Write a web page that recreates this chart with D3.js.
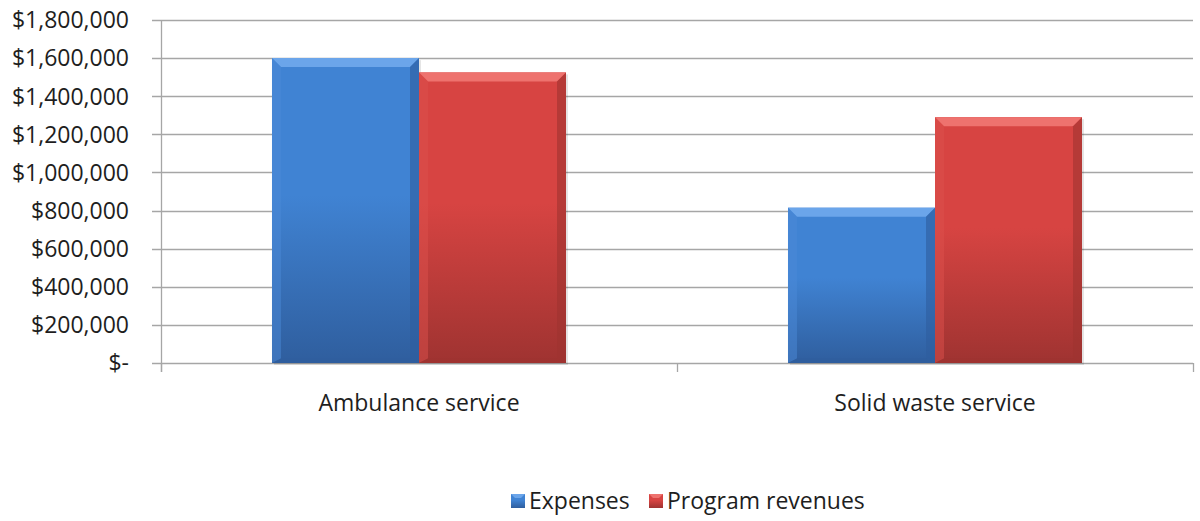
<!DOCTYPE html>
<html><head><meta charset="utf-8">
<script src="https://cdn.jsdelivr.net/npm/d3@7"></script>
<style>body{margin:0;background:#fff}svg{display:block}text{font-family:"Open Sans","Noto Sans",sans-serif;fill:#1e1e1e}</style>
</head><body>
<svg id="c" width="1200" height="521"></svg>
<script>
const categories = ["Ambulance service", "Solid waste service"];
const seriesNames = ["Expenses", "Program revenues"];
const expenses = [1600000, 815000];
const programRevenues = [1525000, 1290000];
const yTicks = [0, 200000, 400000, 600000, 800000, 1000000, 1200000, 1400000, 1600000, 1800000];

const colors = {
  "Expenses": {base:"#4083d3", top:"#6ba5ea", dark:"#2f5e9e", light:"#4c8ad8"},
  "Program revenues": {base:"#d74442", top:"#ee726e", dark:"#9f3331", light:"#dc4f4c"}
};

const svg = d3.select("#c");
const m = {left:161, right:1193, top:20, bottom:363};
const x = d3.scaleBand().domain(categories).range([m.left, m.right]).paddingInner(0).paddingOuter(0);
const x1 = d3.scaleBand().domain(seriesNames).range([0, x.bandwidth()]).paddingInner(0).paddingOuter(0.755);
const y = d3.scaleLinear().domain([0, 1800000]).range([m.bottom, m.top]);

const defs = svg.append("defs");
seriesNames.forEach((s,i)=>{
  const c = colors[s];
  const g = defs.append("linearGradient").attr("id","g"+i).attr("x1",0).attr("y1",0).attr("x2",0).attr("y2",1);
  g.append("stop").attr("offset","0%").attr("stop-color",c.base);
  g.append("stop").attr("offset","45%").attr("stop-color",c.base);
  g.append("stop").attr("offset","100%").attr("stop-color",c.dark);
});

// gridlines
svg.append("g").selectAll("line").data(yTicks).join("line")
  .attr("x1", m.left-9).attr("x2", m.right)
  .attr("y1", d=>Math.round(y(d))+0.5).attr("y2", d=>Math.round(y(d))+0.5)
  .attr("stroke","#a6a6a6").attr("stroke-width",1.3);

// y axis line
svg.append("line").attr("x1",m.left+0.5).attr("x2",m.left+0.5).attr("y1",m.top).attr("y2",m.bottom+9)
  .attr("stroke","#a6a6a6").attr("stroke-width",1.3);

// y labels
const fmt = d3.format(",");
svg.append("g").selectAll("text").data(yTicks).join("text")
  .attr("x", 129).attr("y", d=>y(d)).attr("dy","0.36em").attr("text-anchor","end")
  .attr("font-size",23)
  .text(d=> d===0 ? "$-" : "$"+fmt(d));

// category ticks
const catTicks = [m.left, ...categories.map(c=>x(c)+x.bandwidth())];
svg.append("g").selectAll("line").data(catTicks).join("line")
  .attr("x1",d=>d+0.5).attr("x2",d=>d+0.5).attr("y1",m.bottom).attr("y2",m.bottom+9)
  .attr("stroke","#a6a6a6").attr("stroke-width",1.3);

// category labels
svg.append("g").selectAll("text").data(categories).join("text")
  .attr("x", d=>x(d)+x.bandwidth()/2).attr("y", 411).attr("text-anchor","middle")
  .attr("font-size",23).text(d=>d);

// bars
const data = [];
categories.forEach((c,ci)=>{
  data.push({cat:c, s:"Expenses", v:expenses[ci], i:0});
  data.push({cat:c, s:"Program revenues", v:programRevenues[ci], i:1});
});
const bars = svg.append("g").selectAll("g").data(data).join("g");
bars.each(function(d){
  const g = d3.select(this);
  const c = colors[d.s];
  const x0 = x(d.cat)+x1(d.s), w = x1.bandwidth();
  const y0 = y(d.v), y1b = y(0);
  const b = 9;
  g.append("rect").attr("x",x0+2).attr("y",y0+2).attr("width",w).attr("height",y1b-y0)
    .attr("fill","#000").attr("opacity",0.1);
  g.append("rect").attr("x",x0).attr("y",y0).attr("width",w).attr("height",y1b-y0).attr("fill","url(#g"+d.i+")");
  g.append("polygon").attr("points",[[x0,y0],[x0+w,y0],[x0+w-b,y0+b],[x0+b,y0+b]].join(" ")).attr("fill",c.top);
  g.append("polygon").attr("points",[[x0,y0],[x0+b,y0+b],[x0+b,y1b-b/2],[x0,y1b]].join(" ")).attr("fill",c.light).attr("opacity",0.5);
  g.append("polygon").attr("points",[[x0+w,y0],[x0+w,y1b],[x0+w-b,y1b-b/2],[x0+w-b,y0+b]].join(" ")).attr("fill",c.dark).attr("opacity",0.6);
  g.append("polygon").attr("points",[[x0,y1b],[x0+w,y1b],[x0+w-b,y1b-b/2],[x0+b,y1b-b/2]].join(" ")).attr("fill",c.dark).attr("opacity",0.8);
});

// legend
const leg = svg.append("g");
const legItems = [{s:"Expenses", x:511}, {s:"Program revenues", x:649}];
legItems.forEach((it,i)=>{
  const c = colors[it.s];
  const g = leg.append("g");
  g.append("rect").attr("x",it.x).attr("y",494).attr("width",14).attr("height",14).attr("fill","url(#g"+i+")");
  g.append("polygon").attr("points",[[it.x,494],[it.x+14,494],[it.x+10,498],[it.x+4,498]].join(" ")).attr("fill",c.top);
  g.append("text").attr("x",it.x+18).attr("y",501).attr("dy","0.36em").attr("font-size",23).text(it.s);
});
</script>
</body></html>
